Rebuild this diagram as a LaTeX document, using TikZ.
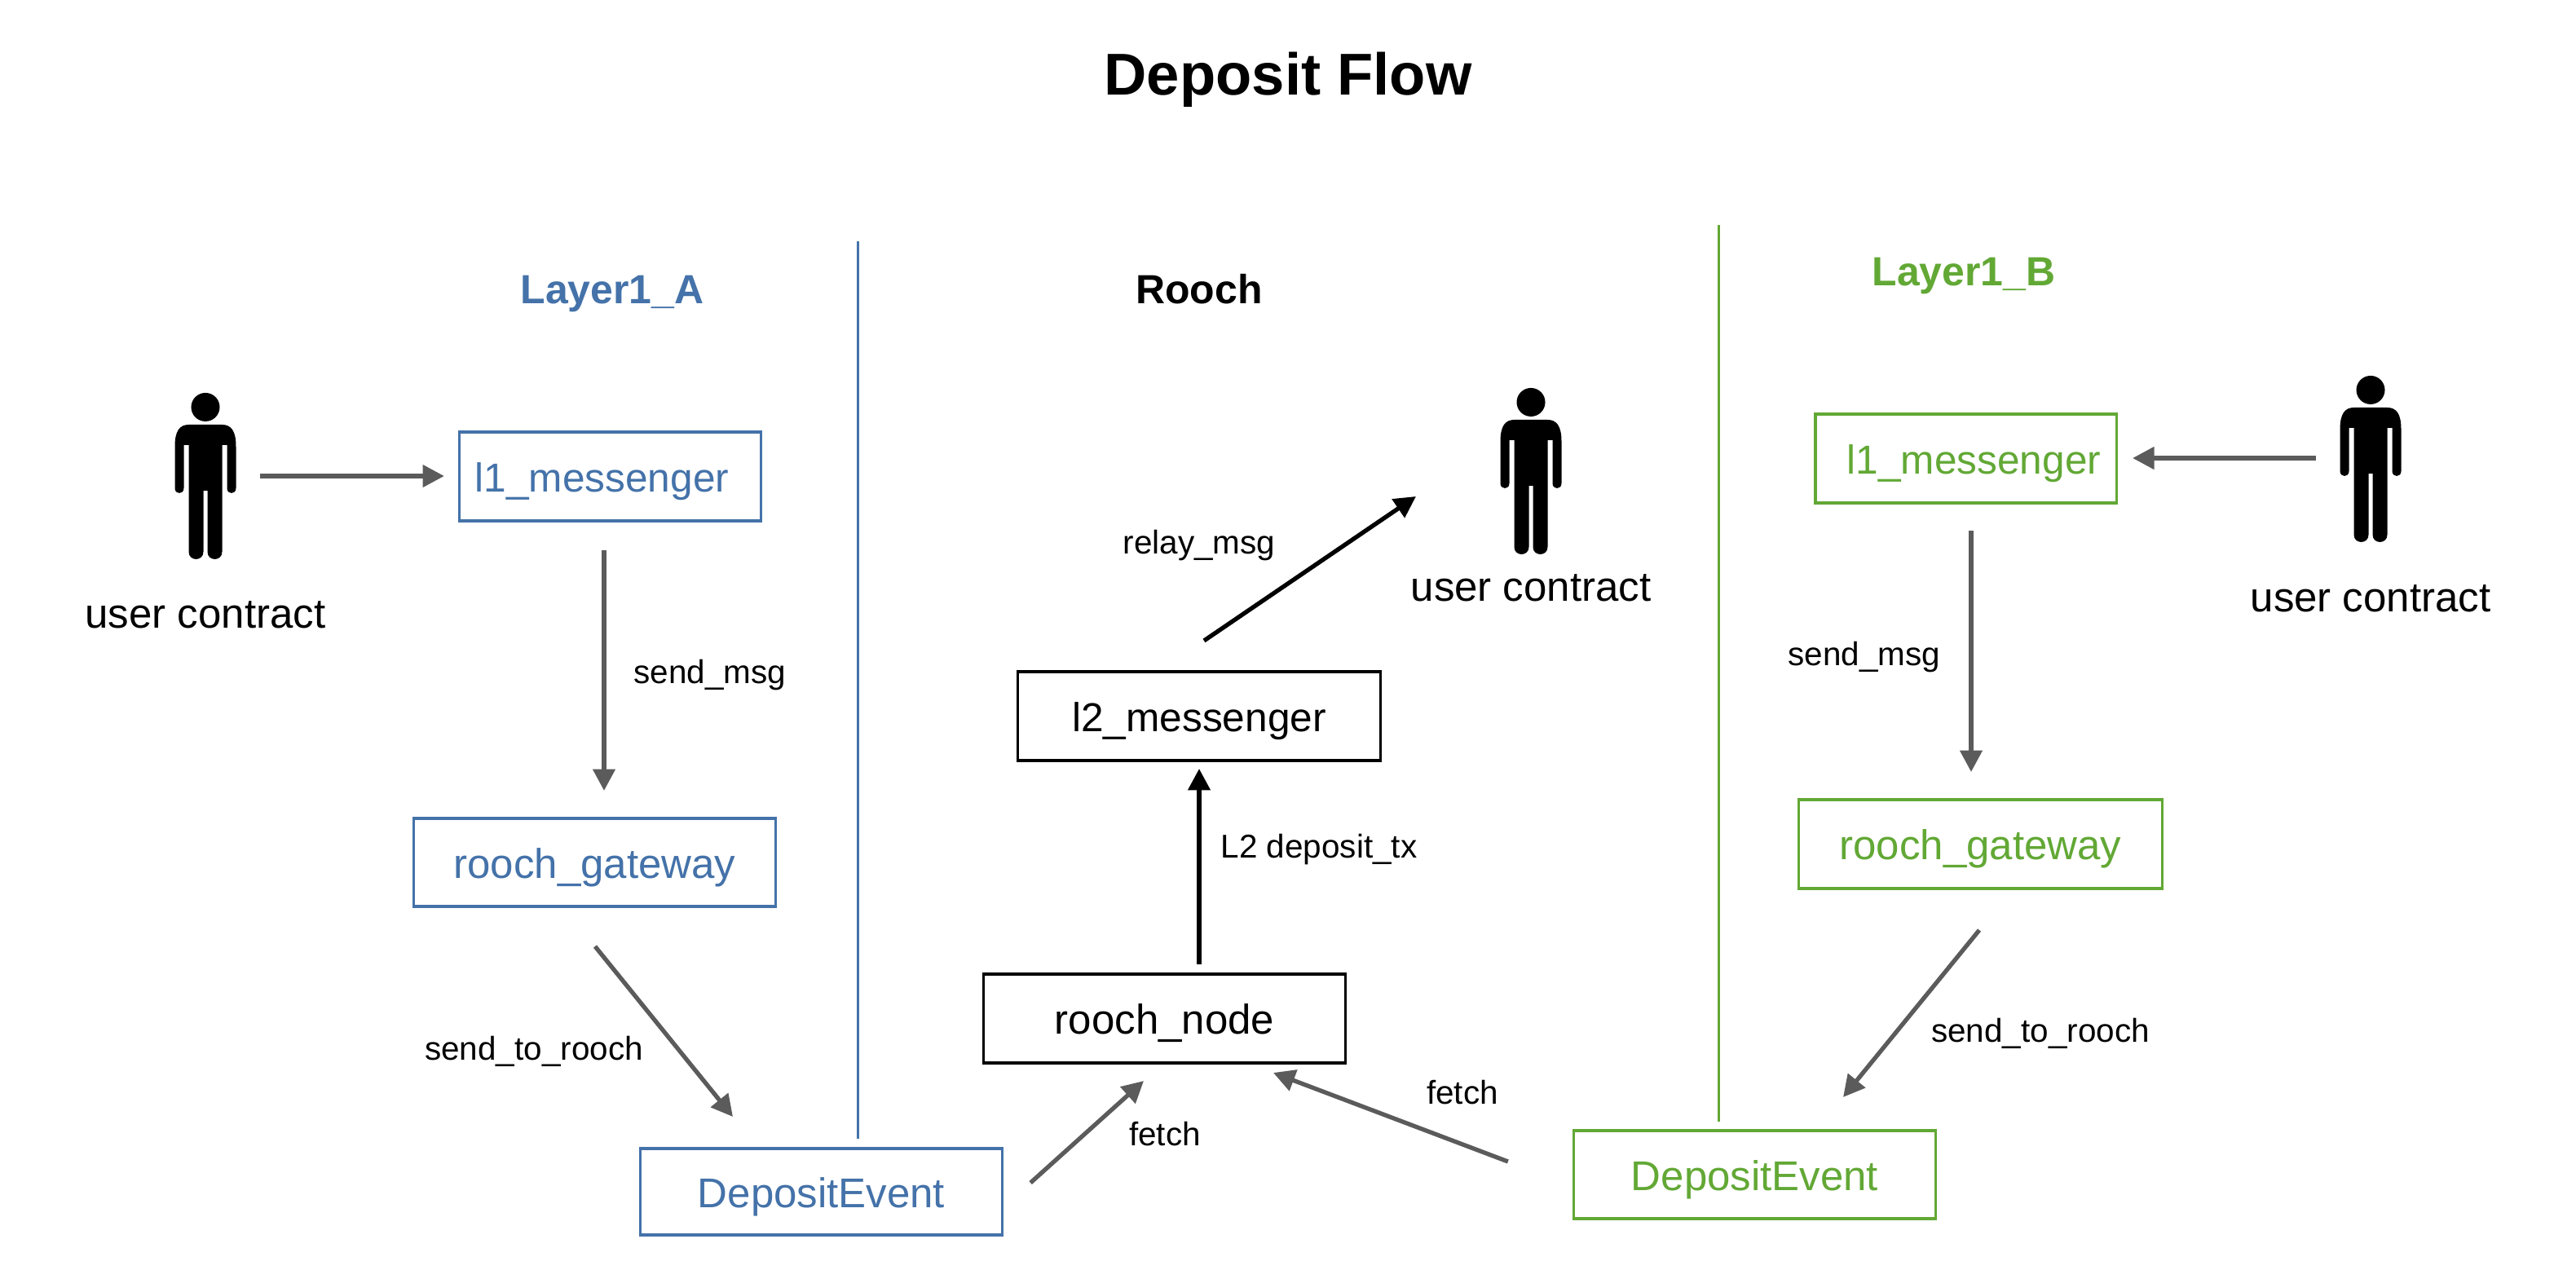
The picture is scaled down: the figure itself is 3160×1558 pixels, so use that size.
\documentclass[tikz,border=0pt]{standalone}
\usepackage{fontspec}
\setmainfont{Liberation Sans}
\usetikzlibrary{arrows.meta}
\definecolor{bluec}{HTML}{4472A9}
\definecolor{greenc}{HTML}{62A835}
\definecolor{flowgray}{HTML}{5B5B5B}
\tikzset{
  x=0.01cm,y=-0.01cm,
  box/.style={draw=#1,text=#1,line width=0.9pt,inner sep=0pt,outer sep=0pt,text height=0.38cm,text depth=0cm,font=\fontsize{14.5}{16}\selectfont},
  narrowtext/.style={font=\fontsize{14.1}{16}\selectfont},
  sep/.style={draw=#1,line width=0.85pt},
  flow/.style={draw=#1,line width=1.5pt,-{Triangle[length=7.5pt,width=7.6pt]},fill=#1},
  lab/.style={inner sep=0pt,font=\fontsize{11.5}{14}\selectfont},
  usertext/.style={inner sep=0pt,font=\fontsize{14.5}{17}\selectfont},
  head/.style={inner sep=0pt,text=#1,font=\bfseries\fontsize{14.2}{17}\selectfont},
  personbox/.style={inner sep=0pt,outer sep=0pt,minimum width=0.75cm,minimum height=2.04cm},
  person/.pic={
    \fill[black] (0,17.5) circle [radius=0.175cm];
    \fill[black] (-37.5,66) .. controls (-37.5,47) and (-32,39) .. (-20,39) -- (20,39)
      .. controls (32,39) and (37.5,47) .. (37.5,66) -- (37.5,117)
      .. controls (37.5,125) and (26.5,125) .. (26.5,117) -- (26.5,64) -- (20.5,64) -- (20.5,195)
      .. controls (20.5,207) and (2.5,207) .. (2.5,195) -- (2.5,120) -- (-2.5,120) -- (-2.5,195)
      .. controls (-2.5,207) and (-20.5,207) .. (-20.5,195) -- (-20.5,64) -- (-26.5,64) -- (-26.5,117)
      .. controls (-26.5,125) and (-37.5,125) .. (-37.5,117) -- cycle;
  }
}
\begin{document}
\begin{tikzpicture}
\useasboundingbox[fill=white] (0,0) rectangle (3160,1558);
% title and headers
\node[inner sep=0pt,font=\bfseries\fontsize{20.6}{24}\selectfont] (title) at (1580,98) {Deposit Flow};
\node[head=bluec] (hA) at (751,361) {Layer1\_A};
\node[head=black] (hR) at (1471,355) {Rooch};
\node[head=greenc] (hB) at (2409,339) {Layer1\_B};
% separators
\coordinate (s1a) at (1052,296); \coordinate (s1b) at (1052,1397);
\coordinate (s2a) at (2108,276); \coordinate (s2b) at (2108,1376);
\draw[sep=bluec] (s1a) -- (s1b);
\draw[sep=greenc] (s2a) -- (s2b);
% users
\node[personbox] (userA) at (252,584) {};
\node[personbox] (userB) at (1878,578) {};
\node[personbox] (userC) at (2908,563) {};
\pic at (userA.north) {person};
\pic at (userB.north) {person};
\pic at (userC.north) {person};
\node[usertext] (utA) at (252,754) {user contract};
\node[usertext] (utB) at (1878,721) {user contract};
\node[usertext] (utC) at (2908,734) {user contract};
% boxes
\node[box=bluec,narrowtext,minimum width=3.69cm,minimum height=1.09cm] (l1A) at (748.5,584.5) {l1\_messenger\hspace*{0.2cm}};
\node[box=bluec,minimum width=4.43cm,minimum height=1.08cm] (gateA) at (729.5,1058) {rooch\_gateway};
\node[box=bluec,minimum width=4.43cm,minimum height=1.06cm] (depA) at (1007.5,1462) {DepositEvent};
\node[box=black,narrowtext,minimum width=4.44cm,minimum height=1.09cm] (l2) at (1471,878.5) {l2\_messenger};
\node[box=black,minimum width=4.43cm,minimum height=1.09cm] (rnode) at (1428.5,1249.5) {rooch\_node};
\node[box=greenc,narrowtext,minimum width=3.69cm,minimum height=1.09cm] (l1B) at (2411.5,562.5) {\hspace*{0.2cm}l1\_messenger};
\node[box=greenc,minimum width=4.45cm,minimum height=1.09cm] (gateB) at (2429.5,1035.5) {rooch\_gateway};
\node[box=greenc,minimum width=4.43cm,minimum height=1.08cm] (depB) at (2152.5,1441) {DepositEvent};
% connector labels
\node[lab] (t1) at (871,828) {send\_msg};
\node[lab] (t2) at (655,1290) {send\_to\_rooch};
\node[lab] (t3) at (1429,1391) {fetch};
\node[lab] (t4) at (1794,1340) {fetch};
\node[lab] (t5) at (1618,1042) {L2 deposit\_tx};
\node[lab] (t6) at (1471,669) {relay\_msg};
\node[lab] (t7) at (2287,806) {send\_msg};
\node[lab] (t8) at (2503,1268) {send\_to\_rooch};
% connectors
\draw[flow=flowgray] ([shift={(29.5,0)}]userA.east) -- ([shift={(-19,-0.5)}]l1A.west);
\draw[flow=flowgray] ([shift={(-7.5,36)}]l1A.south) -- ([shift={(11.5,-34)}]gateA.north);
\draw[flow=flowgray] ([shift={(0.5,49)}]gateA.south) -- ([shift={(-108.5,-39)}]depA.north);
\draw[flow=flowgray] ([shift={(35,-11)}]depA.east) -- ([shift={(-25.5,22)}]rnode.south);
\draw[flow=flowgray] ([shift={(-81,-16)}]depB.west) -- ([shift={(133.5,12)}]rnode.south);
\draw[flow=black] ([shift={(42.5,-12)}]rnode.north) -- ([shift={(0,10)}]l2.south);
\draw[flow=black] ([shift={(6,-38)}]l2.north) -- ([shift={(-103.5,31)}]userB.west);
\draw[flow=flowgray] ([shift={(-29.5,-1)}]userC.west) -- ([shift={(20,-0.5)}]l1B.east);
\draw[flow=flowgray] ([shift={(6.5,34)}]l1B.south) -- ([shift={(-11.5,-34)}]gateB.north);
\draw[flow=flowgray] ([shift={(-1.5,51)}]gateB.south) -- ([shift={(108.5,-41)}]depB.north);
\end{tikzpicture}
\end{document}
